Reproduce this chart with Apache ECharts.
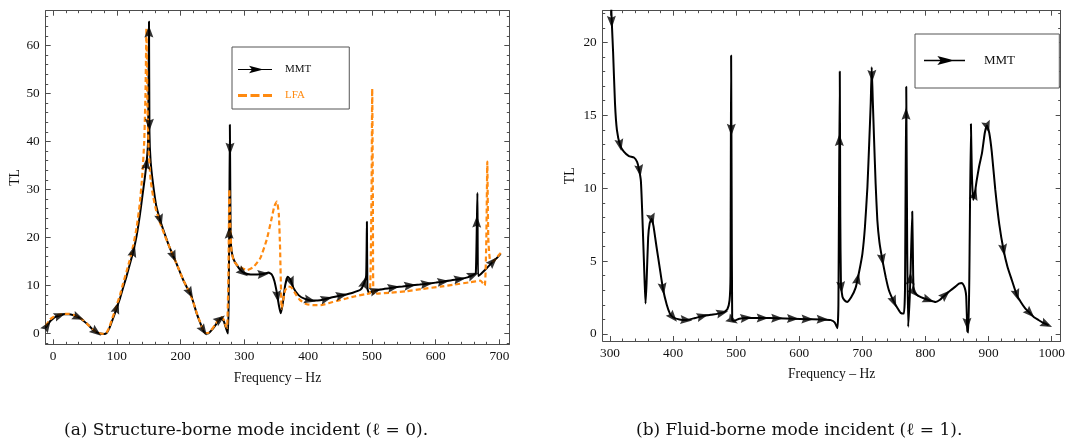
<!DOCTYPE html>
<html><head><meta charset="utf-8">
<script src="https://cdn.jsdelivr.net/npm/echarts@6/dist/echarts.min.js"></script>
<style>html,body{margin:0;padding:0;background:#fff}#c{width:1068px;height:444px}</style>
</head><body><div id="c"></div>
<script>
// ---- tick labels ----
const leftXTicks = [0,100,200,300,400,500,600,700];
const leftYTicks = [0,10,20,30,40,50,60];
const rightXTicks = [300,400,500,600,700,800,900,1000];
const rightYTicks = [0,5,10,15,20];

// ---- (a) structure-borne: MMT [Hz, TL] ----
const mmtA = [[-11.5,1.2],[-5,2.5],[0,3.1],[5,3.5],[11,3.8],[18,4.0],[25,4.0],[32,3.8],[40,3.35],[48,2.6],[55,1.8],[62,0.9],[68,0.3],[74,0],[80,-0.1],[84,0.1],[88,1],[92,2.4],[96,3.8],[100,5.4],[105,7.3],[110,9.6],[115,11.8],[120,14.2],[126,17.2],[131,20.3],[136,24.5],[140,28.5],[144,32.5],[147,36],[149,40],[150.5,65],[151.2,42],[153,36],[157,31],[162,26.5],[168,23.6],[175,20.8],[182,18.2],[189,16],[196,13.8],[204,11.2],[210,9.6],[215,8.4],[220,6.5],[225,4.3],[230,2.5],[235,0.8],[239,0],[243,0],[248,0.6],[254,1.6],[260,2.8],[264,3.2],[268,2.5],[272,0.8],[274.5,0],[275.5,8],[276.5,25],[277.3,43.5],[278,30],[278.6,20],[280,17.2],[283,15.5],[288,14.3],[294,13.2],[300,12.6],[310,12.3],[320,12.3],[330,12.4],[338,12.7],[343,12.3],[347,11],[351,8.5],[354,6],[357,4.2],[360,6],[364,10],[368,11.8],[372,11.3],[377,9.5],[385,8],[395,7.2],[405,6.9],[415,6.9],[425,7.1],[440,7.6],[455,8],[470,8.5],[482,9.1],[487,10.2],[491,12],[492.2,23.3],[493,9.5],[495,8.5],[500,8.7],[507,9],[520,9.3],[534,9.6],[548,9.8],[560,10],[575,10.2],[586,10.35],[600,10.6],[612,10.8],[625,11.1],[638,11.35],[650,11.7],[659,12.2],[663,12.6],[665.5,29.3],[666.5,12],[670,12.3],[680,13.6],[690,15],[695,15.6],[702,16.6]];
// ---- (a) LFA ----
const lfaA = [[-11.5,1.6],[-5,2.9],[0,3.4],[8,3.9],[18,4.1],[25,4.1],[32,3.9],[40,3.4],[48,2.7],[55,1.8],[62,0.9],[68,0.3],[74,0],[80,-0.1],[84,0.2],[88,1.2],[92,2.8],[96,4.3],[100,6],[105,8],[110,10.5],[115,12.8],[120,15.2],[126,18.5],[131,22],[136,27],[140,33],[143,40],[145,50],[146.5,63.6],[148,48],[150,38],[153,32],[157,28.5],[162,25.5],[168,23],[175,20.5],[182,18.2],[189,16],[196,13.8],[204,11.2],[210,9.6],[215,8.3],[220,6.5],[225,4.4],[230,2.6],[235,0.9],[239,0.1],[243,0.1],[248,0.7],[254,1.8],[260,3],[264,3.4],[268,2.8],[271,1.5],[273,1.2],[275,12],[276.5,30],[278,22],[280,17],[284,15],[290,14.1],[297,13.6],[304,13.2],[314,13.8],[325,15.7],[335,19.5],[342,23.5],[347,26.5],[351,27.5],[354,25],[356,18],[358.5,5.2],[361,7],[364,9],[369,9.8],[374,9.6],[380,8.3],[387,7],[398,6.1],[410,5.9],[420,5.9],[432,6.3],[445,6.8],[460,7.3],[475,7.8],[490,8.2],[497,8.4],[499.5,30],[500.5,51],[501.5,30],[502.5,8.1],[507,8.3],[530,8.5],[555,8.8],[580,9.3],[607,9.75],[630,10.2],[655,10.7],[670,11],[677,10],[679.5,20],[681,35.8],[682.5,20],[685,15.5],[690,15],[695,15.7],[702,16.8]];
// ---- (b) fluid-borne: MMT ----
const mmtB = [[301,23.5],[303,21.3],[305,19.3],[308,15.8],[311,14],[316,12.96],[322,12.5],[330,12.2],[338,12.1],[343,11.8],[346,11.3],[349,10.5],[351,8.5],[353,6],[355,3.5],[356.4,2.1],[358,3.5],[360.5,6.6],[363,7.6],[366,7.9],[369,7.4],[373.7,6],[379,4.5],[384,3.1],[390,2],[395,1.4],[400,1.15],[410,1.0],[421,0.96],[435,1.1],[447,1.23],[460,1.32],[470,1.38],[480,1.48],[486,1.7],[489.5,2.3],[491,4],[492,19.1],[492.8,10],[493.7,0.96],[496,0.9],[505,1.05],[516,1.1],[530,1.1],[542,1.1],[565,1.08],[590,1.05],[613,1.02],[637,1.0],[650,0.95],[656,0.8],[660.5,0.4],[662,2],[664.2,18],[665,8],[666,3.5],[668.4,2.56],[672,2.3],[676,2.2],[682,2.5],[689.5,3.2],[695,4.3],[700,5.5],[704,7.3],[708,10.1],[711,13.3],[713.2,15.8],[714.8,18.3],[716.5,16],[718.4,13.5],[721,10.3],[723.7,7.8],[727,6.3],[731.6,5.1],[737,3.9],[742,3.0],[750,2.2],[756,1.75],[760.6,1.45],[765.8,1.4],[767.5,3],[769.5,16.96],[771,6],[772.6,0.5],[775,2.5],[776.5,4.5],[779,8.4],[780.5,4],[781.6,2.9],[785,2.75],[789.5,2.6],[797,2.45],[805,2.33],[816,2.2],[823,2.35],[831.7,2.7],[840,3.0],[847.5,3.25],[853,3.45],[857.9,3.5],[861,3.3],[863.2,3.0],[864.5,2.6],[865.6,1.2],[866.3,0.2],[868,0.1],[869.5,4],[872,14.4],[873.5,11],[875.5,9.2],[878,9.6],[881,10.5],[885,11.5],[889.5,12.4],[894,13.8],[897.4,14.3],[901,13.8],[905,12.5],[910.6,9.9],[917,7.5],[923.7,5.76],[930,4.6],[936.8,3.7],[944.7,2.67],[951,2.2],[958,1.76],[965.8,1.42],[972,1.15],[979,0.96],[986,0.78],[992,0.66],[995,0.6]];

// ---- arrowhead positions along the curves [Hz, TL] ----
const arrowsA = [[-9,1.6],[11,3.8],[40,3.35],[68,0.3],[100,5.4],[126,17.2],[146.5,35.4],[150.37,62.9],[151.15,43.5],[168,23.6],[189,16],[215,8.4],[236,0.6],[262,3.0],[276.26,21],[277.56,38.5],[298,12.7],[330,12.4],[352,7.7],[374,10.58],[403,6.96],[429,7.23],[453,7.95],[488,10.65],[506,8.96],[534,9.6],[560,10],[586,10.35],[612,10.8],[638,11.35],[659,12.2],[664.6,23.3],[690,15]];
const arrowsB = [[302.6,21.4],[316,12.96],[347,11.2],[366.5,7.85],[384,3.1],[400,1.15],[421,0.96],[447,1.23],[478,1.46],[492.3,14],[494.5,0.93],[516,1.1],[542,1.1],[565,1.08],[590,1.05],[613,1.02],[637,1.0],[663.55,13.3],[666.5,3.2],[692.5,3.8],[715.3,17.7],[731.6,5.1],[750,2.2],[769.23,15.1],[776,3.8],[782,2.85],[805,2.33],[831.7,2.7],[866,0.7],[878,9.6],[898,14.2],[923.7,5.76],[944.7,2.67],[965.8,1.42],[992,0.66]];

const FRAME = '#4d4d4d', TXT = '#111', ORANGE = '#FF8A10';
const SERIF = '"Liberation Serif", "Times New Roman", serif';
const ARROW_HEAD = 'path://M5,0L10,13L5,11L0,13Z';

function minors(ticks, n, min, max) {
  const step = (ticks[1] - ticks[0]) / n, out = [];
  for (let v = ticks[0] - step * Math.ceil((ticks[0] - min) / step); v <= max + 1e-9; v += step) {
    const r = Math.round(v * 1000) / 1000;
    if (r >= min - 1e-9) out.push(r);
  }
  return out;
}
function ax(gi, min, max, vals, pos, major, labels, extra) {
  const a = {
    type: 'value', gridIndex: gi, min: min, max: max, position: pos,
    axisLine: { show: major, onZero: false, lineStyle: { color: FRAME, width: 1 } },
    axisTick: { show: true, inside: true, length: major ? 5 : 2.5, customValues: vals, lineStyle: { color: FRAME, width: 1 } },
    axisLabel: labels ? { show: true, customValues: vals, color: TXT, fontFamily: SERIF, fontSize: 13.3, margin: 6,
      formatter: v => String(v) } : { show: false },
    splitLine: { show: false }, minorTick: { show: false }
  };
  return Object.assign(a, extra || {});
}
const nameStyle = { color: TXT, fontFamily: SERIF, fontSize: 13.7 };
const A = { xmin: -11.5, xmax: 715.5, ymin: -2.25, ymax: 67.25 };
const B = { xmin: 288.5, xmax: 1014.2, ymin: -0.48, ymax: 22.17 };

const xAxes = [
  ax(0, A.xmin, A.xmax, leftXTicks, 'bottom', true, true, { name: 'Frequency \u2013 Hz', nameLocation: 'middle', nameGap: 27, nameTextStyle: nameStyle }),
  ax(0, A.xmin, A.xmax, minors(leftXTicks, 5, A.xmin, A.xmax), 'bottom', false, false),
  ax(0, A.xmin, A.xmax, leftXTicks, 'top', true, false),
  ax(0, A.xmin, A.xmax, minors(leftXTicks, 5, A.xmin, A.xmax), 'top', false, false),
  ax(1, B.xmin, B.xmax, rightXTicks, 'bottom', true, true, { name: 'Frequency \u2013 Hz', nameLocation: 'middle', nameGap: 26, nameTextStyle: nameStyle }),
  ax(1, B.xmin, B.xmax, minors(rightXTicks, 5, B.xmin, B.xmax), 'bottom', false, false),
  ax(1, B.xmin, B.xmax, rightXTicks, 'top', true, false),
  ax(1, B.xmin, B.xmax, minors(rightXTicks, 5, B.xmin, B.xmax), 'top', false, false)
];
const yAxes = [
  ax(0, A.ymin, A.ymax, leftYTicks, 'left', true, true, { name: 'TL', nameLocation: 'middle', nameGap: 23, nameTextStyle: nameStyle }),
  ax(0, A.ymin, A.ymax, minors(leftYTicks, 5, A.ymin, A.ymax), 'left', false, false),
  ax(0, A.ymin, A.ymax, leftYTicks, 'right', true, false),
  ax(0, A.ymin, A.ymax, minors(leftYTicks, 5, A.ymin, A.ymax), 'right', false, false),
  ax(1, B.ymin, B.ymax, rightYTicks, 'left', true, true, { name: 'TL', nameLocation: 'middle', nameGap: 25, nameTextStyle: nameStyle }),
  ax(1, B.ymin, B.ymax, minors(rightYTicks, 5, B.ymin, B.ymax), 'left', false, false),
  ax(1, B.ymin, B.ymax, rightYTicks, 'right', true, false),
  ax(1, B.ymin, B.ymax, minors(rightYTicks, 5, B.ymin, B.ymax), 'right', false, false)
];

const ARROW_ICON = 'path://M0,4.3L40,4.3L40,5.7L0,5.7Z M13,0.5L30,5L13,9.5L16.5,5Z';
const DASH_ICON = 'path://M0,0h0.01v0.01h-0.01z M0,3.6h9v2.8h-9z M12.5,3.6h9v2.8h-9z M25,3.6h9v2.8h-9z M33.99,9.99h0.01v0.01h-0.01z';

const chart = echarts.init(document.getElementById('c'), null, { renderer: 'canvas' });
const option = {
  animation: false,
  backgroundColor: '#fff',
  grid: [
    { left: 45.7, top: 10.7, width: 463.6, height: 333.6 },
    { left: 602.7, top: 10.7, width: 459.6, height: 330.3 }
  ],
  xAxis: xAxes,
  yAxis: yAxes,
  legend: [
    { left: 232, top: 47, orient: 'vertical', padding: [17, 38, 8, 6], itemGap: 15, itemWidth: 34, itemHeight: 10,
      borderColor: '#555', borderWidth: 1, backgroundColor: '#fff', selectedMode: false,
      textStyle: { fontFamily: SERIF, fontSize: 11, color: TXT, padding: [0, 0, 0, 8] },
      data: [ { name: 'MMT', icon: ARROW_ICON, itemStyle: { color: '#000' } },
              { name: 'LFA', icon: DASH_ICON, itemStyle: { color: ORANGE }, textStyle: { color: ORANGE } } ] },
    { left: 915, top: 34, orient: 'vertical', padding: [20, 41, 21, 9], itemWidth: 41, itemHeight: 11,
      borderColor: '#555', borderWidth: 1, backgroundColor: '#fff', selectedMode: false,
      textStyle: { fontFamily: SERIF, fontSize: 13, color: TXT, padding: [0, 0, 0, 14] },
      data: [ { name: 'MMT ', icon: ARROW_ICON, itemStyle: { color: '#000' } } ] }
  ],
  graphic: [
    { type: 'text', left: 64, top: 422, style: { text: '(a) Structure-borne mode incident (\u2113 = 0).', font: '17px "DejaVu Serif", serif', fill: '#111' } },
    { type: 'text', left: 636, top: 422, style: { text: '(b) Fluid-borne mode incident (\u2113 = 1).', font: '17px "DejaVu Serif", serif', fill: '#111' } }
  ],
  series: [
    { name: 'MMT', type: 'line', xAxisIndex: 0, yAxisIndex: 0, data: mmtA, symbol: 'none', smooth: 0.15,
      lineStyle: { color: '#000', width: 2 }, itemStyle: { color: '#000' }, z: 2 },
    { name: 'LFA', type: 'line', xAxisIndex: 0, yAxisIndex: 0, data: lfaA, symbol: 'none', smooth: 0.15,
      lineStyle: { color: ORANGE, width: 2.2, type: [5, 3] }, itemStyle: { color: ORANGE }, z: 3 },
    { name: 'MMT ', type: 'line', xAxisIndex: 4, yAxisIndex: 4, data: mmtB, symbol: 'none', smooth: 0.15,
      lineStyle: { color: '#000', width: 2 }, itemStyle: { color: '#000' }, z: 2 },
    { name: 'arrA', type: 'scatter', xAxisIndex: 0, yAxisIndex: 0, data: arrowsA, symbol: ARROW_HEAD, symbolSize: [9, 12],
      itemStyle: { color: '#000' }, z: 5, silent: true },
    { name: 'arrB', type: 'scatter', xAxisIndex: 4, yAxisIndex: 4, data: arrowsB, symbol: ARROW_HEAD, symbolSize: [9, 12],
      itemStyle: { color: '#000' }, z: 5, silent: true }
  ]
};
chart.setOption(option);

// orient each arrowhead along the nearest curve segment (in pixel space)
function orient(curve, arrows, xi, yi) {
  const f = { xAxisIndex: xi, yAxisIndex: yi };
  const pc = curve.map(p => chart.convertToPixel(f, p));
  return arrows.map(a => {
    const p = chart.convertToPixel(f, a);
    let best = 1e18, dir = [1, 0];
    for (let i = 0; i < pc.length - 1; i++) {
      const ax = pc[i][0], ay = pc[i][1], bx = pc[i + 1][0], by = pc[i + 1][1];
      const dx = bx - ax, dy = by - ay, L = dx * dx + dy * dy || 1e-9;
      let t = ((p[0] - ax) * dx + (p[1] - ay) * dy) / L;
      t = Math.max(0, Math.min(1, t));
      const qx = ax + t * dx - p[0], qy = ay + t * dy - p[1];
      const d = qx * qx + qy * qy;
      if (d < best) { best = d; dir = [dx, dy]; }
    }
    const ang = Math.atan2(-dir[1], dir[0]) * 180 / Math.PI;
    return { value: a, symbolRotate: ang - 90 };
  });
}
chart.setOption({ series: [ {}, {}, {},
  { data: orient(mmtA, arrowsA, 0, 0) },
  { data: orient(mmtB, arrowsB, 4, 4) } ] });
</script></body></html>
